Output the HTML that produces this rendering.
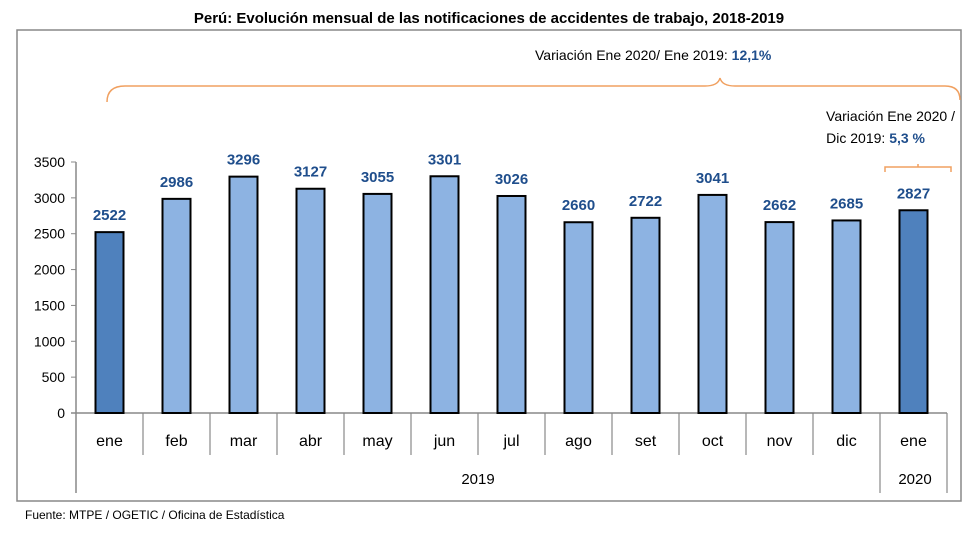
<!DOCTYPE html>
<html><head><meta charset="utf-8"><style>
body{margin:0;background:#fff;width:980px;height:537px;overflow:hidden;font-family:"Liberation Sans",sans-serif}
svg text{font-family:"Liberation Sans",sans-serif}
</style></head><body>
<svg width="980" height="537">
<text x="489" y="23" text-anchor="middle" font-size="15" font-weight="bold">Perú: Evolución mensual de las notificaciones de accidentes de trabajo, 2018-2019</text>
<rect x="17" y="30" width="944" height="471" fill="none" stroke="#888" stroke-width="1.5"/>
<path d="M107,102 Q107,86 125,86 L705,86 Q718,86 720,78 Q722,86 735,86 L945,86 Q960,86 960,100" fill="none" stroke="#f0a060" stroke-width="1.5"/>
<text x="535" y="60" font-size="14">Variación Ene 2020/ Ene 2019: <tspan fill="#1f4e8c" font-weight="bold">12,1%</tspan></text>
<path d="M885,172 L885,167 L951,167 L951,172 M918,167 L918,164" fill="none" stroke="#f0a060" stroke-width="1.5"/>
<text x="955" y="121" text-anchor="end" font-size="14">Variación  Ene 2020 /</text>
<text x="925" y="143" text-anchor="end" font-size="14">Dic 2019:  <tspan fill="#1f4e8c" font-weight="bold">5,3 %</tspan></text>
<g id="g"></g>
<text x="478" y="484" text-anchor="middle" font-size="15">2019</text>
<text x="915" y="484" text-anchor="middle" font-size="15">2020</text>
<text x="25" y="519" font-size="12">Fuente: MTPE / OGETIC / Oficina de Estadística</text>
</svg>
<script>
const categories=["ene","feb","mar","abr","may","jun","jul","ago","set","oct","nov","dic","ene"];
const values=[2522,2986,3296,3127,3055,3301,3026,2660,2722,3041,2662,2685,2827];
const highlight=[true,false,false,false,false,false,false,false,false,false,false,false,true];
const yTicks=[0,500,1000,1500,2000,2500,3000,3500];
const NS="http://www.w3.org/2000/svg",g=document.getElementById('g');
const x0=76,step=67,y0=413,yTop=162,yMax=3500;
const Y=v=>y0-(v/yMax)*(y0-yTop);
const X=i=>x0+step*i+step/2;
function mk(t,a){const e=document.createElementNS(NS,t);for(const k in a)e.setAttribute(k,a[k]);g.appendChild(e);return e;}
let ax=mk('line',{x1:x0,y1:yTop,x2:x0,y2:493,stroke:'#888','stroke-width':1.5});


let bx=mk('line',{x1:x0-5,y1:y0,x2:x0+step*categories.length,y2:y0,stroke:'#888','stroke-width':1.5});


yTicks.forEach(v=>{
 let t=mk('line',{x1:x0-5,y1:Y(v),x2:x0,y2:Y(v),stroke:'#888'});
 
 
 let l=mk('text',{x:x0-11,y:Y(v)+5,'text-anchor':'end','font-size':14});l.textContent=v;
 
 
});
categories.forEach((c,i)=>{
 let sx=x0+step*(i+1);
 let s=mk('line',{x1:sx,y1:y0,x2:sx,y2:(i==11||i==12)?493:455,stroke:'#888','stroke-width':1.2});
 
 
 let b=mk('rect',{x:X(i)-14,y:Y(values[i]),width:28,height:y0-Y(values[i]),fill:highlight[i]?'#4f81bd':'#8db3e2',stroke:'#000','stroke-width':2});
 
 
 let v=mk('text',{x:X(i),y:Y(values[i])-12,'text-anchor':'middle','font-size':15,'font-weight':'bold',fill:'#1f4e8c'});v.textContent=values[i];
 
 
 let l=mk('text',{x:X(i),y:446,'text-anchor':'middle','font-size':16});l.textContent=c;
 
 
});
</script>
</body></html>
